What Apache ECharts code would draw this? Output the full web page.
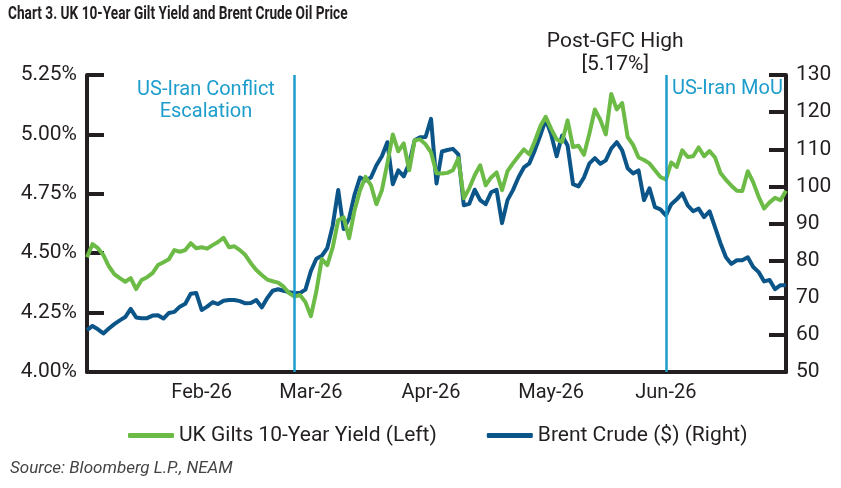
<!DOCTYPE html>
<html>
<head>
<meta charset="utf-8">
<script src="https://cdn.jsdelivr.net/npm/echarts@6/dist/echarts.min.js"></script>
<style>
    html, body { margin: 0; padding: 0; background: #fff; }
    #main { width: 841px; height: 488px; }
</style>
</head>
<body>
<div id="main"></div>
<script>
// business days shown on the axis
var startDay = '2026-01-02';
var endDay = '2026-07-01';
var monthNames = ['Jan', 'Feb', 'Mar', 'Apr', 'May', 'Jun', 'Jul', 'Aug', 'Sep', 'Oct', 'Nov', 'Dec'];

// UK 10y gilt yield (%), left axis
var gilt = [
    4.483, 4.538, 4.521, 4.492, 4.445, 4.412, 4.395, 4.380, 4.395, 4.349,
    4.387, 4.399, 4.416, 4.450, 4.462, 4.475, 4.513, 4.506, 4.513, 4.542,
    4.521, 4.525, 4.519, 4.534, 4.547, 4.565, 4.525, 4.529, 4.513, 4.492,
    4.458, 4.429, 4.408, 4.389, 4.382, 4.376, 4.359, 4.332, 4.317, 4.324,
    4.294, 4.235, 4.340, 4.475, 4.450, 4.525, 4.639, 4.651, 4.563, 4.681,
    4.765, 4.821, 4.786, 4.706, 4.765, 4.878, 5.000, 4.929, 4.962, 4.849,
    4.975, 4.979, 4.958, 4.924, 4.836, 4.835, 4.838, 4.849, 4.899, 4.731,
    4.773, 4.828, 4.870, 4.786, 4.819, 4.840, 4.765, 4.845, 4.878, 4.908,
    4.937, 4.916, 4.971, 5.034, 5.074, 5.023, 4.979, 4.968, 5.059, 4.947,
    4.952, 4.914, 5.004, 5.105, 5.061, 5.000, 5.170, 5.105, 5.132, 4.989,
    4.956, 4.903, 4.892, 4.878, 4.849, 4.821, 4.810, 4.882, 4.863, 4.933,
    4.905, 4.908, 4.945, 4.908, 4.930, 4.903, 4.838, 4.809, 4.784, 4.763,
    4.762, 4.845, 4.798, 4.737, 4.688, 4.714, 4.733, 4.723, 4.763
];

// Brent crude ($), right axis
var brent = [
    61.3, 62.4, 61.5, 60.4, 61.7, 62.9, 63.9, 64.8, 67.0, 64.7,
    64.5, 64.5, 65.2, 65.3, 64.4, 65.9, 66.2, 67.6, 68.4, 71.1,
    71.3, 66.7, 67.6, 68.8, 68.3, 69.2, 69.4, 69.4, 69.1, 68.5,
    68.6, 69.4, 67.4, 69.9, 71.9, 72.3, 71.9, 71.5, 71.3, 71.3,
    72.2, 77.2, 80.5, 81.3, 83.4, 89.5, 99.0, 88.5, 91.4, 97.8,
    102.4, 101.6, 102.4, 105.7, 108.1, 111.9, 100.6, 104.3, 102.7, 106.2,
    112.4, 113.2, 113.3, 118.2, 100.8, 109.4, 109.8, 110.1, 108.6, 94.9,
    95.3, 99.1, 96.3, 95.2, 98.4, 99.1, 90.1, 96.3, 99.0, 102.4,
    105.1, 106.2, 109.7, 113.7, 118.0, 114.0, 108.1, 113.7, 111.0, 100.6,
    100.0, 102.4, 106.2, 107.6, 106.1, 107.0, 110.2, 111.9, 109.7, 104.9,
    103.5, 104.3, 96.3, 99.5, 94.4, 93.8, 92.2, 95.2, 96.5, 98.1,
    94.9, 93.3, 94.0, 91.7, 93.3, 89.0, 84.7, 80.9, 79.1, 80.1,
    80.1, 80.9, 78.3, 76.9, 74.4, 74.8, 72.3, 73.4, 73.4
];

// event lines
var events = [
    {name: 'US-Iran Conflict\nEscalation', day: '2026-02-25'},
    {name: 'US-Iran MoU', day: '2026-06-01'}
];

var yieldTicks = [4.00, 4.25, 4.50, 4.75, 5.00, 5.25];
var oilTicks = [50, 60, 70, 80, 90, 100, 110, 120, 130];

var days = [];
(function () {
    var d = new Date(startDay + 'T00:00:00Z');
    var end = new Date(endDay + 'T00:00:00Z');
    while (d <= end) {
        var wd = d.getUTCDay();
        if (wd !== 0 && wd !== 6) {
            days.push(d.toISOString().slice(0, 10));
        }
        d.setUTCDate(d.getUTCDate() + 1);
    }
})();

// first business day of each month gets a label (not the very first / last point)
function isMonthStart(idx) {
    if (idx === 0 || idx === days.length - 1) return false;
    return days[idx].slice(5, 7) !== days[idx - 1].slice(5, 7);
}

var FONT = 'Roboto';
var green = '#6cbb46';
var blue = '#0b5589';
var cyan = '#1d9dcc';
var ink = '#231f20';

var chart = echarts.init(document.getElementById('main'));
chart.setOption({
    animation: false,
    backgroundColor: '#fff',
    legend: {
        left: 123,
        top: 420,
        itemWidth: 46,
        itemHeight: 5,
        itemGap: 50,
        icon: 'roundRect',
        textStyle: {fontFamily: FONT, fontSize: 21, color: ink},
        data: ['UK Gilts 10-Year Yield (Left)', 'Brent Crude ($) (Right)']
    },
    grid: {left: 87, right: 55, top: 75, bottom: 116},
    xAxis: {
        type: 'category',
        data: days,
        boundaryGap: false,
        axisLine: {lineStyle: {color: ink, width: 4}},
        axisTick: {show: false},
        axisLabel: {
            interval: function (idx) { return isMonthStart(idx); },
            formatter: function (v) {
                return monthNames[parseInt(v.slice(5, 7), 10) - 1] + '-' + v.slice(2, 4);
            },
            fontFamily: FONT,
            fontSize: 20,
            color: ink,
            margin: 11
        },
        splitLine: {show: false}
    },
    yAxis: [{
        type: 'value',
        min: yieldTicks[0],
        max: yieldTicks[yieldTicks.length - 1],
        interval: 0.25,
        axisLine: {show: true, lineStyle: {color: ink, width: 4}},
        axisTick: {show: true, inside: true, length: 17, lineStyle: {color: ink, width: 4}},
        axisLabel: {
            formatter: function (v) { return v.toFixed(2) + '%'; },
            fontFamily: FONT,
            fontSize: 21,
            color: ink,
            margin: 10
        },
        splitLine: {show: false}
    }, {
        type: 'value',
        min: oilTicks[0],
        max: oilTicks[oilTicks.length - 1],
        interval: 10,
        position: 'right',
        axisLine: {show: true, lineStyle: {color: ink, width: 4}},
        axisTick: {show: true, inside: true, length: 17, lineStyle: {color: ink, width: 4}},
        axisLabel: {fontFamily: FONT, fontSize: 21, color: ink, margin: 10},
        splitLine: {show: false}
    }],
    series: [{
        name: 'UK Gilts 10-Year Yield (Left)',
        type: 'line',
        yAxisIndex: 0,
        data: gilt,
        showSymbol: false,
        z: 4,
        lineStyle: {color: green, width: 4, join: 'round'},
        itemStyle: {color: green},
        markPoint: {
            symbol: 'circle',
            symbolSize: 0,
            data: [{type: 'max'}],
            label: {
                show: true,
                position: 'top',
                distance: 18,
                offset: [4, 0],
                formatter: 'Post-GFC High\n[5.17%]',
                fontFamily: FONT,
                fontSize: 21,
                lineHeight: 23,
                color: ink
            }
        }
    }, {
        name: 'Brent Crude ($) (Right)',
        type: 'line',
        yAxisIndex: 1,
        data: brent,
        showSymbol: false,
        z: 3,
        lineStyle: {color: blue, width: 4, join: 'round'},
        itemStyle: {color: blue},
        markLine: {
            silent: true,
            symbol: ['none', 'none'],
            lineStyle: {color: cyan, width: 2.5, type: 'solid'},
            label: {show: false},
            data: events.map(function (e) { return {xAxis: e.day}; })
        }
    }],
    graphic: [{
        // title, squeezed to mimic the narrow bold face
        type: 'text',
        x: 8,
        y: 5,
        scaleX: 0.72,
        style: {
            text: 'Chart 3. UK 10-Year Gilt Yield and Brent Crude Oil Price',
            font: 'bold 19px ' + FONT,
            fill: ink
        }
    }, {
        type: 'text',
        x: 206,
        y: 79,
        style: {
            text: events[0].name,
            font: '20px ' + FONT,
            fill: cyan,
            align: 'center',
            verticalAlign: 'top',
            lineHeight: 22
        }
    }, {
        type: 'text',
        x: 672,
        y: 79,
        style: {text: events[1].name, font: '20px ' + FONT, fill: cyan, verticalAlign: 'top'}
    }, {
        type: 'text',
        x: 10,
        y: 460,
        style: {
            text: 'Source: Bloomberg L.P., NEAM',
            font: 'italic 17px ' + FONT,
            fill: '#444'
        }
    }]
});
</script>
</body>
</html>
